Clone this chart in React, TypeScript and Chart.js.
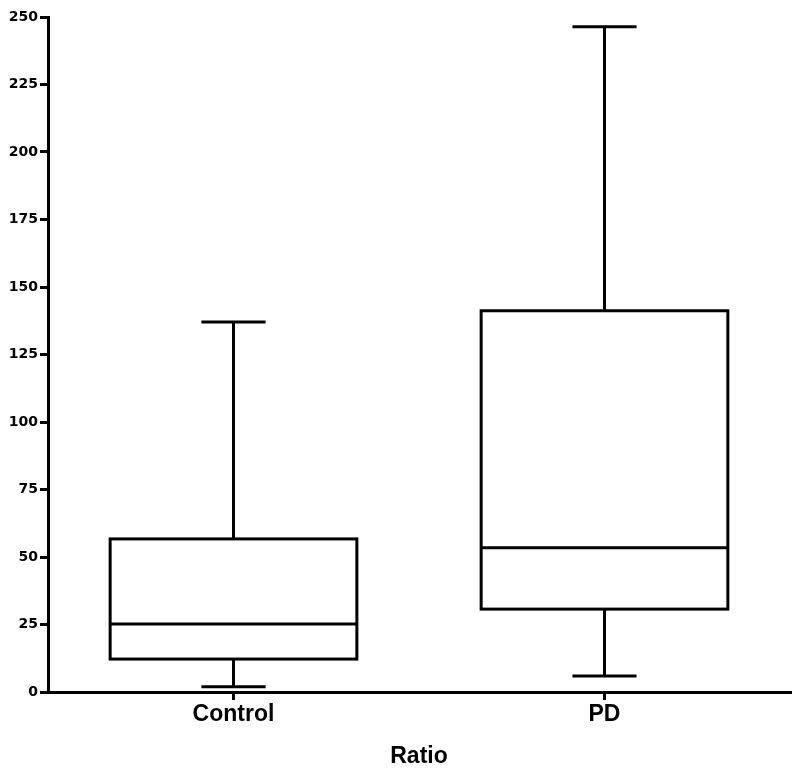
import React, { useEffect, useRef } from "react";
import { Chart, registerables } from "chart.js";

Chart.register(...registerables);

const categories = ["Control", "PD"];
const minValues = [1.9, 5.9];
const q1Values = [12.2, 30.7];
const medianValues = [25.2, 53.4];
const q3Values = [56.7, 141.2];
const maxValues = [137, 246.4];
const yMin = 0;
const yMax = 250;
const yStep = 25;
const xTitle = "Ratio";

const FONT = "'Liberation Sans', Arial, Helvetica, sans-serif";
const TICK_FONT = "'DejaVu Sans', 'Liberation Sans', sans-serif";

const whiskerPlugin = {
  id: "boxWhiskers",
  afterDatasetsDraw(chart: any) {
    const ctx = chart.ctx;
    const xs = chart.scales.x;
    const ys = chart.scales.y;
    const meta = chart.getDatasetMeta(0);
    ctx.save();
    ctx.strokeStyle = "#000";
    ctx.lineWidth = 3;
    ctx.lineCap = "butt";
    ctx.lineJoin = "miter";
    categories.forEach((_, i) => {
      const bar = meta.data[i];
      const cx = xs.getPixelForValue(i);
      const half = bar.width / 2;
      const capHalf = half * 0.26;
      const yMinP = ys.getPixelForValue(minValues[i]);
      const yQ1 = ys.getPixelForValue(q1Values[i]);
      const yMed = ys.getPixelForValue(medianValues[i]);
      const yQ3 = ys.getPixelForValue(q3Values[i]);
      const yMaxP = ys.getPixelForValue(maxValues[i]);
      // box outline
      ctx.strokeRect(cx - half, yQ3, half * 2, yQ1 - yQ3);
      ctx.beginPath();
      // median
      ctx.moveTo(cx - half, yMed);
      ctx.lineTo(cx + half, yMed);
      // upper whisker
      ctx.moveTo(cx, yQ3);
      ctx.lineTo(cx, yMaxP);
      ctx.moveTo(cx - capHalf, yMaxP);
      ctx.lineTo(cx + capHalf, yMaxP);
      // lower whisker
      ctx.moveTo(cx, yQ1);
      ctx.lineTo(cx, yMinP);
      ctx.moveTo(cx - capHalf, yMinP);
      ctx.lineTo(cx + capHalf, yMinP);
      ctx.stroke();
    });
    ctx.restore();
  },
};

export default function App() {
  const canvasRef = useRef<HTMLCanvasElement | null>(null);

  useEffect(() => {
    if (!canvasRef.current) return;
    const chart = new Chart(canvasRef.current, {
      type: "bar",
      data: {
        labels: categories,
        datasets: [
          {
            data: categories.map((_, i) => [q1Values[i], q3Values[i]]) as any,
            backgroundColor: "#ffffff",
            borderWidth: 0,
            barPercentage: 0.665,
            categoryPercentage: 1,
          },
        ],
      },
      options: {
        animation: false,
        responsive: false,
        devicePixelRatio: 1,
        layout: { padding: { top: 17, right: 10, left: 0, bottom: 0 } },
        plugins: {
          legend: { display: false },
          tooltip: { enabled: false },
        },
        scales: {
          x: {
            offset: true,
            afterFit: (scale: any) => {
              scale.height = 78;
            },
            border: { display: true, color: "#000", width: 3 },
            grid: {
              display: true,
              drawOnChartArea: false,
              drawTicks: true,
              tickLength: 8,
              color: "#000",
              lineWidth: 3,
              offset: false,
            },
            ticks: {
              color: "#000",
              padding: 1,
              font: { family: FONT, size: 23, weight: "bold" },
            },
            title: {
              display: true,
              text: xTitle,
              color: "#000",
              font: { family: FONT, size: 23, weight: "bold" },
              padding: { top: 4, bottom: 0 },
            },
          },
          y: {
            min: yMin,
            max: yMax,
            afterFit: (scale: any) => {
              scale.width = 48;
            },
            border: { display: true, color: "#000", width: 3 },
            grid: {
              display: true,
              drawOnChartArea: false,
              drawTicks: true,
              tickLength: 8,
              color: "#000",
              lineWidth: 3,
            },
            ticks: {
              stepSize: yStep,
              color: "#000",
              padding: 2,
              font: { family: TICK_FONT, size: 14, weight: "bold" },
            },
          },
        },
      },
      plugins: [whiskerPlugin],
    });
    return () => chart.destroy();
  }, []);

  return (
    <div style={{ position: "fixed", left: 0, top: 0, width: 800, height: 770, background: "#fff" }}>
      <canvas ref={canvasRef} width={800} height={770} style={{ width: 800, height: 770, display: "block" }} />
    </div>
  );
}
